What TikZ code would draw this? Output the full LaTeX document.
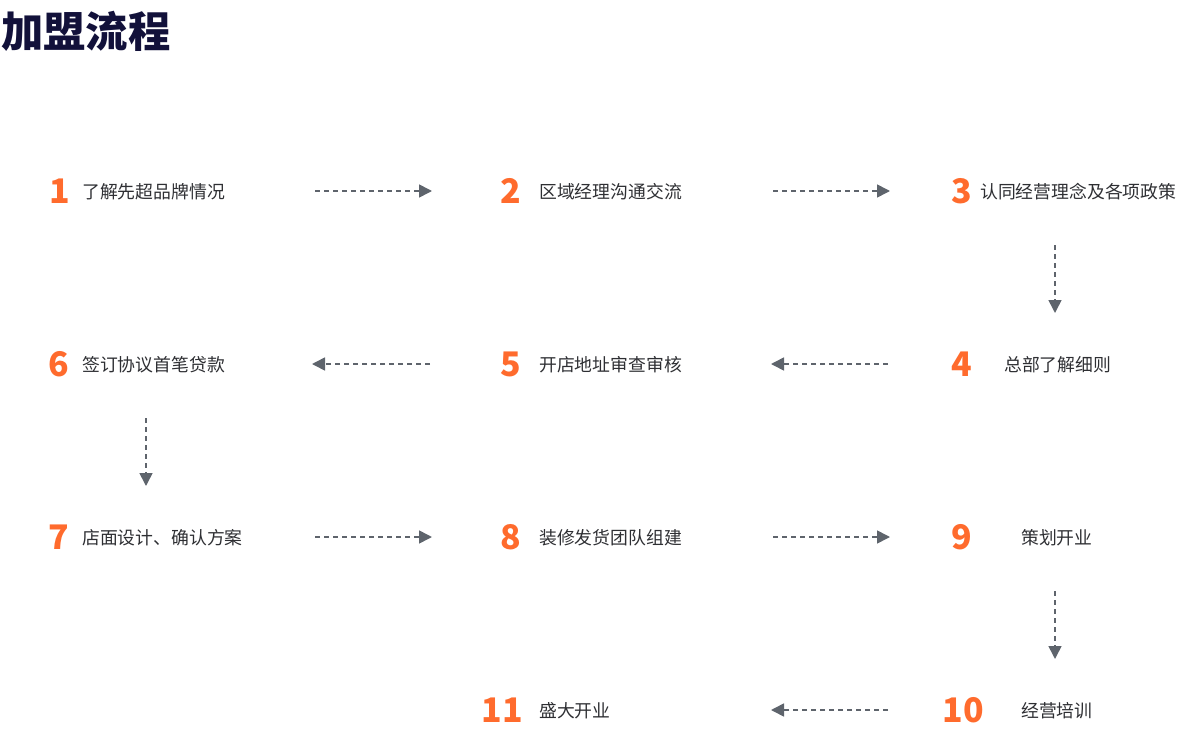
\documentclass[tikz,border=0pt]{standalone}
\usepackage{fontspec}
\newfontfamily\cjk{Noto Sans CJK SC}
\usetikzlibrary{arrows.meta}
\definecolor{numor}{HTML}{FF6B2D}
\definecolor{arrgray}{HTML}{5E646C}
\definecolor{txtgray}{HTML}{2E2F33}
\definecolor{titlenavy}{HTML}{12113A}
\tikzset{
  numlbl/.style={inner sep=0pt, text=numor, font=\cjk\bfseries\fontsize{34}{34}\selectfont},
  steplbl/.style={inner sep=0pt, anchor=west, text=txtgray, font=\cjk\fontsize{17.9}{18}\selectfont},
  flowarrow/.style={draw=arrgray, line width=1.6bp, dash pattern=on 5bp off 4bp, -{Triangle[length=13bp,width=13bp]}}
}
\begin{document}
\begin{tikzpicture}[x=1bp,y=-1bp]
\useasboundingbox (0,0) rectangle (1202,748);
\node[inner sep=0pt, anchor=west, text=titlenavy, font=\cjk\bfseries\fontsize{42.5}{42.5}\selectfont] (title) at (1,31) {加盟流程};
% numbers
\node[numlbl] (n1) at (60,191) {1};
\node[numlbl] (n2) at (511,191) {2};
\node[numlbl] (n3) at (962,191) {3};
\node[numlbl] (n4) at (962,364) {4};
\node[numlbl] (n5) at (511,364) {5};
\node[numlbl] (n6) at (59,364) {6};
\node[numlbl] (n7) at (59,537) {7};
\node[numlbl] (n8) at (511,537) {8};
\node[numlbl] (n9) at (962,537) {9};
\node[numlbl] (n10) at (963,710) {10};
\node[numlbl] (n11) at (502,710) {11};
% texts
\node[steplbl] (t1) at (82,191.5) {了解先超品牌情况};
\node[steplbl] (t2) at (539,191.5) {区域经理沟通交流};
\node[steplbl] (t3) at (980,191.5) {认同经营理念及各项政策};
\node[steplbl] (t4) at (1004,364.5) {总部了解细则};
\node[steplbl] (t5) at (539,364.5) {开店地址审查审核};
\node[steplbl] (t6) at (82,364.5) {签订协议首笔贷款};
\node[steplbl] (t7) at (82,537.5) {店面设计、确认方案};
\node[steplbl] (t8) at (539,537.5) {装修发货团队组建};
\node[steplbl] (t9) at (1021,537.5) {策划开业};
\node[steplbl] (t10) at (1021,710.5) {经营培训};
\node[steplbl] (t11) at (539,710.5) {盛大开业};
% arrow end points
\coordinate (a1s) at (315,191); \coordinate (a1e) at (432,191);
\coordinate (a2s) at (773,191); \coordinate (a2e) at (890,191);
\coordinate (a3s) at (1055,245); \coordinate (a3e) at (1055,313);
\coordinate (a4s) at (888,364); \coordinate (a4e) at (771,364);
\coordinate (a5s) at (430,364); \coordinate (a5e) at (312,364);
\coordinate (a6s) at (146,418); \coordinate (a6e) at (146,486);
\coordinate (a7s) at (315,537); \coordinate (a7e) at (432,537);
\coordinate (a8s) at (773,537); \coordinate (a8e) at (890,537);
\coordinate (a9s) at (1055,591); \coordinate (a9e) at (1055,659);
\coordinate (a10s) at (888,710); \coordinate (a10e) at (771,710);
\foreach \i in {1,...,10} {\draw[flowarrow] (a\i s) -- (a\i e);}
\end{tikzpicture}
\end{document}
